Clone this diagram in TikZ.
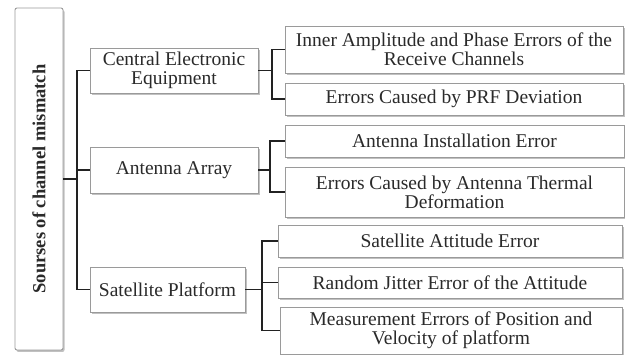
\documentclass[tikz,border=0pt]{standalone}
\usepackage{fontspec}
\setmainfont{Liberation Serif}
\usetikzlibrary{shadows}
\definecolor{txt}{HTML}{2A2A2A}
\definecolor{edge}{HTML}{9A9A9A}
\definecolor{wire}{HTML}{222222}
\tikzset{
  box/.style={draw=edge, line width=0.9pt, fill=white,
    drop shadow={shadow xshift=1.5pt, shadow yshift=-2pt, fill=gray!70, opacity=0.7},
    align=center, inner sep=0pt, text=txt,
    font=\fontsize{19.5}{19}\selectfont},
  rootbox/.style={box, rounded corners=2pt, rotate=90,
    font=\bfseries\fontsize{18.5}{18}\selectfont},
  wiring/.style={draw=wire, line width=1.5pt}
}
\begin{document}
\begin{tikzpicture}[x=1pt,y=-1pt]
\useasboundingbox (0,0) rectangle (625,355);
\node[rootbox, minimum width=342pt, minimum height=48pt] (root) at (39,179) {Sourses of channel mismatch};

\node[box, minimum width=168pt, minimum height=45pt] (cee) at (174,70.5) {Central Electronic\\Equipment};
\node[box, minimum width=168pt, minimum height=46pt] (aa) at (174,170) {Antenna Array};
\node[box, minimum width=155pt, minimum height=45pt] (sp) at (167.5,289.5) {Satellite Platform};

\node[box, minimum width=338pt, minimum height=47pt] (l1) at (454,49.5) {Inner Amplitude and Phase Errors of the\\Receive Channels};
\node[box, minimum width=338pt, minimum height=32pt] (l2) at (454,99) {Errors Caused by PRF Deviation};
\node[box, minimum width=339pt, minimum height=32pt] (l3) at (454.5,141) {Antenna Installation Error};
\node[box, minimum width=339pt, minimum height=50pt] (l4) at (454.5,192) {Errors Caused by Antenna Thermal\\Deformation};
\node[box, minimum width=344pt, minimum height=32pt] (l5) at (450,241) {Satellite Attitude Error};
\node[box, minimum width=344pt, minimum height=31pt] (l6) at (450,282.5) {Random Jitter Error of the Attitude};
\node[box, minimum width=342pt, minimum height=47pt] (l7) at (451,330.5) {Measurement Errors of Position and\\Velocity of platform};

\coordinate (trunk) at (77,179);
\coordinate (jc) at (272,70.5);
\coordinate (ja) at (270,170);
\coordinate (js) at (262,289.5);

\draw[wiring] (root.south) -- (trunk);
\draw[wiring] (cee.west) -| (trunk);
\draw[wiring] (sp.west) -| (trunk);
\draw[wiring] (aa.west) -- (aa.west -| trunk);

\draw[wiring] (cee.east) -- (jc);
\draw[wiring] (l1.west) -| (jc);
\draw[wiring] (l2.west) -| (jc);

\draw[wiring] (aa.east) -- (ja);
\draw[wiring] (l3.west) -| (ja);
\draw[wiring] (l4.west) -| (ja);

\draw[wiring] (sp.east) -- (js);
\draw[wiring] (l5.west) -| (js);
\draw[wiring] (l6.west) -- (l6.west -| js);
\draw[wiring] (l7.west) -| (js);
\end{tikzpicture}
\end{document}
